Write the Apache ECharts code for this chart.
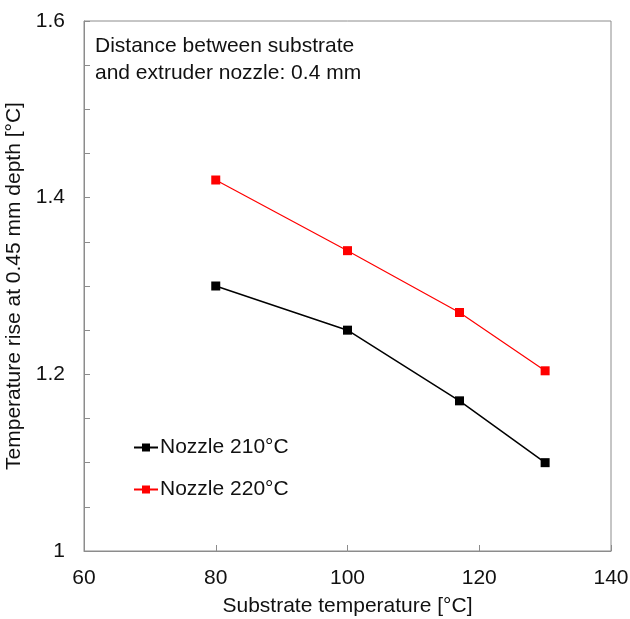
<!DOCTYPE html>
<html>
<head>
<meta charset="utf-8">
<script src="https://cdn.jsdelivr.net/npm/echarts@6/dist/echarts.min.js"></script>
<style>
  html, body { margin: 0; padding: 0; background: #fff; }
  #chart { width: 630px; height: 619px; }
</style>
</head>
<body>
<div id="chart"></div>
<script>
// substrate temperatures (x) and temperature rise values
const substrateTemps = [80, 100, 117, 130]
const nozzle210 = [1.30, 1.25, 1.17, 1.10]
const nozzle220 = [1.42, 1.34, 1.27, 1.204]
const seriesNames = ['Nozzle 210°C', 'Nozzle 220°C']
const yLabelTicks = [1, 1.2, 1.4, 1.6]

const font = 'Liberation Sans, Arial, sans-serif'
const gray = '#8c8c8c'
const fs = 21

const pairs = ys => substrateTemps.map((x, i) => [x, ys[i]])

const chart = echarts.init(document.getElementById('chart'))
chart.setOption({
  animation: false,
  grid: {
    left: 84, right: 19, top: 21, bottom: 68,
    outerBoundsMode: 'none', containLabel: false,
    show: true, borderColor: gray, borderWidth: 1
  },
  graphic: [{
    type: 'text', left: 95, top: 33,
    style: {
      text: 'Distance between substrate\nand extruder nozzle: 0.4 mm',
      font: fs + 'px ' + font, fill: '#111', lineHeight: 27
    }
  }],
  legend: {
    orient: 'vertical', left: 128, top: 432, itemGap: 21,
    itemWidth: 24, itemHeight: 10,
    textStyle: { fontFamily: font, fontSize: fs, color: '#111', padding: [0, 0, 0, -3] },
    data: seriesNames
  },
  xAxis: {
    type: 'value', min: 60, max: 140, interval: 20,
    name: 'Substrate temperature [°C]', nameLocation: 'middle', nameGap: 45,
    nameTextStyle: { fontFamily: font, fontSize: fs, color: '#111' },
    axisLine: { lineStyle: { color: gray } },
    axisTick: { inside: true, length: 6, lineStyle: { color: gray } },
    axisLabel: { fontFamily: font, fontSize: fs, color: '#111', margin: 17 },
    splitLine: { show: false }
  },
  yAxis: {
    type: 'value', min: 1, max: 1.6, interval: 0.05,
    name: 'Temperature rise at 0.45 mm depth [°C]', nameLocation: 'middle', nameGap: 52,
    nameTextStyle: { fontFamily: font, fontSize: fs, color: '#111' },
    axisLine: { show: true, lineStyle: { color: gray } },
    axisTick: { inside: true, length: 6, lineStyle: { color: gray } },
    axisLabel: {
      fontFamily: font, fontSize: fs, color: '#111', margin: 19,
      formatter: v => {
        const hit = yLabelTicks.find(t => Math.abs(t - v) < 1e-6)
        return hit === undefined ? '' : String(hit)
      }
    },
    splitLine: { show: false }
  },
  series: [
    {
      name: seriesNames[0], type: 'line', data: pairs(nozzle210),
      symbol: 'rect', symbolSize: 9,
      lineStyle: { color: '#000', width: 1.5 }, itemStyle: { color: '#000' }
    },
    {
      name: seriesNames[1], type: 'line', data: pairs(nozzle220),
      symbol: 'rect', symbolSize: 9,
      lineStyle: { color: '#ff0000', width: 1.2 }, itemStyle: { color: '#ff0000' }
    }
  ]
})
</script>
</body>
</html>
